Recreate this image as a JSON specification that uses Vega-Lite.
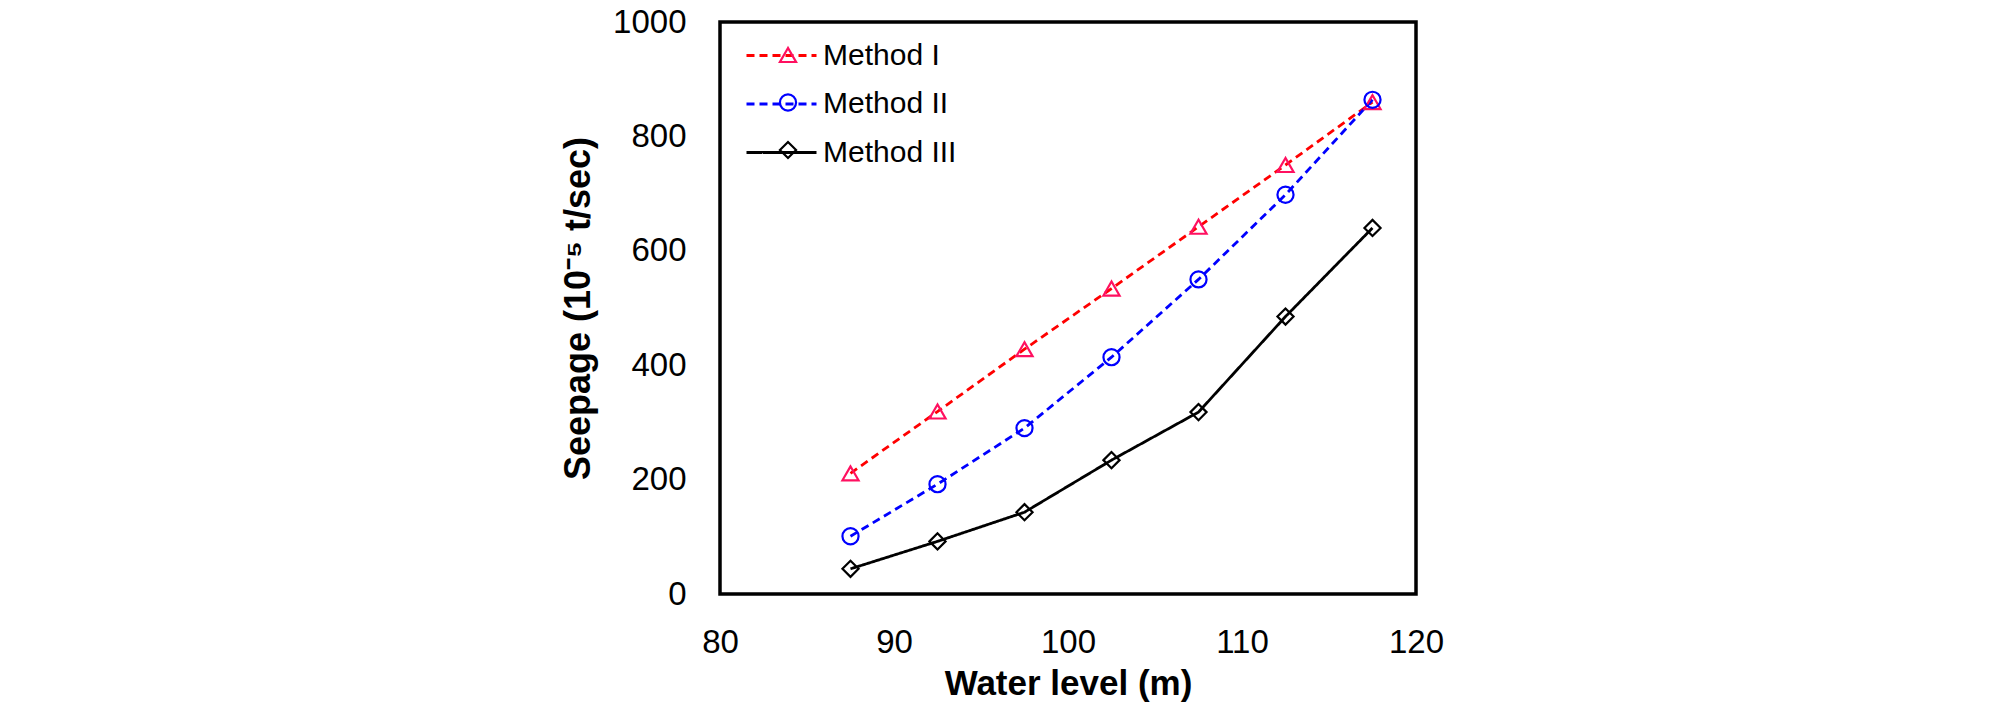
{
  "$schema": "https://vega.github.io/schema/vega-lite/v6.json",
  "width": 696,
  "height": 572,
  "autosize": "none",
  "padding": {"left": 720, "top": 22, "right": 592, "bottom": 122},
  "background": "white",
  "data": {
    "values": [
      {"level": 87.5, "seepage": 211, "method": "Method I", "marker": "Method I"},
      {"level": 92.5, "seepage": 319, "method": "Method I", "marker": "Method I"},
      {"level": 97.5, "seepage": 428, "method": "Method I", "marker": "Method I"},
      {"level": 102.5, "seepage": 534, "method": "Method I", "marker": "Method I"},
      {"level": 107.5, "seepage": 642, "method": "Method I", "marker": "Method I"},
      {"level": 112.5, "seepage": 750, "method": "Method I", "marker": "Method I"},
      {"level": 117.5, "seepage": 860, "method": "Method I", "marker": "Method I"},
      {"level": 87.5, "seepage": 101, "method": "Method II", "marker": "Method II"},
      {"level": 92.5, "seepage": 192, "method": "Method II", "marker": "Method II"},
      {"level": 97.5, "seepage": 290, "method": "Method II", "marker": "Method II"},
      {"level": 102.5, "seepage": 414, "method": "Method II", "marker": "Method II"},
      {"level": 107.5, "seepage": 550, "method": "Method II", "marker": "Method II"},
      {"level": 112.5, "seepage": 698, "method": "Method II", "marker": "Method II"},
      {"level": 117.5, "seepage": 864, "method": "Method II", "marker": "Method II"},
      {"level": 87.5, "seepage": 44, "method": "Method III", "marker": "Method III"},
      {"level": 92.5, "seepage": 92, "method": "Method III", "marker": "Method III"},
      {"level": 97.5, "seepage": 143, "method": "Method III", "marker": "Method III"},
      {"level": 102.5, "seepage": 234, "method": "Method III", "marker": "Method III"},
      {"level": 107.5, "seepage": 318, "method": "Method III", "marker": "Method III"},
      {"level": 112.5, "seepage": 485, "method": "Method III", "marker": "Method III"},
      {"level": 117.5, "seepage": 640, "method": "Method III", "marker": "Method III"}
    ]
  },
  "encoding": {
    "x": {
      "field": "level",
      "type": "quantitative",
      "scale": {"domain": [80, 120]},
      "axis": {
        "values": [80, 90, 100, 110, 120],
        "title": "Water level (m)",
        "labelPadding": 32,
        "titlePadding": 7,
        "titleFontSize": 35,
        "labelFlush": false
      }
    },
    "y": {
      "field": "seepage",
      "type": "quantitative",
      "scale": {"domain": [0, 1000]},
      "axis": {
        "values": [0, 200, 400, 600, 800, 1000],
        "format": "d",
        "title": "Seepage (10⁻⁵ t/sec)",
        "labelPadding": 34,
        "titlePadding": 15,
        "titleFontSize": 36
      }
    }
  },
  "layer": [
    {
      "mark": {"type": "line", "strokeWidth": 2.8},
      "encoding": {
        "color": {
          "field": "method",
          "type": "nominal",
          "scale": {"range": ["#ff0000", "#0000ff", "#000000"]},
          "legend": {
            "title": null,
            "orient": "none",
            "legendX": 46,
            "legendY": 18,
            "padding": 0,
            "symbolType": "M-2.5,0H2.5",
            "symbolSize": 784,
            "symbolStrokeWidth": 2.8,
            "labelFont": "Liberation Sans",
            "labelFontSize": 30,
            "labelColor": "black",
            "labelOffset": 26,
            "rowPadding": 17.5
          }
        },
        "strokeDash": {
          "field": "method",
          "type": "nominal",
          "scale": {"range": [[8, 5], [8, 5], [1, 0]]},
          "legend": {
            "title": null,
            "orient": "none",
            "legendX": 46,
            "legendY": 18,
            "padding": 0,
            "symbolType": "M-2.5,0H2.5",
            "symbolSize": 784,
            "symbolStrokeWidth": 2.8,
            "labelFont": "Liberation Sans",
            "labelFontSize": 30,
            "labelColor": "black",
            "labelOffset": 26,
            "rowPadding": 17.5
          }
        }
      }
    },
    {
      "mark": {"type": "point", "filled": false, "strokeWidth": 2.2, "opacity": 1, "size": 260},
      "encoding": {
        "stroke": {
          "field": "marker",
          "type": "nominal",
          "scale": {"range": ["#ff1060", "#0000ff", "#000000"]},
          "legend": {
            "title": null,
            "orient": "none",
            "legendX": 53,
            "legendY": 18,
            "padding": 0,
            "symbolStrokeWidth": 2.2,
            "symbolSize": 260,
            "labelFont": "Liberation Sans",
            "labelFontSize": 30,
            "labelExpr": "' '",
            "rowPadding": 17.5
          }
        },
        "shape": {
          "field": "marker",
          "type": "nominal",
          "scale": {"range": ["triangle-up", "circle", "diamond"]},
          "legend": {
            "title": null,
            "orient": "none",
            "legendX": 53,
            "legendY": 18,
            "padding": 0,
            "symbolStrokeWidth": 2.2,
            "symbolSize": 260,
            "labelFont": "Liberation Sans",
            "labelFontSize": 30,
            "labelExpr": "' '",
            "rowPadding": 17.5
          }
        }
      }
    }
  ],
  "config": {
    "view": {"stroke": "black", "strokeWidth": 3.5},
    "axis": {
      "grid": false,
      "ticks": false,
      "tickSize": 0,
      "domain": false,
      "labelFont": "Liberation Sans",
      "labelFontSize": 33,
      "labelColor": "black",
      "titleFont": "Liberation Sans",
      "titleFontWeight": "bold",
      "titleColor": "black"
    }
  }
}
